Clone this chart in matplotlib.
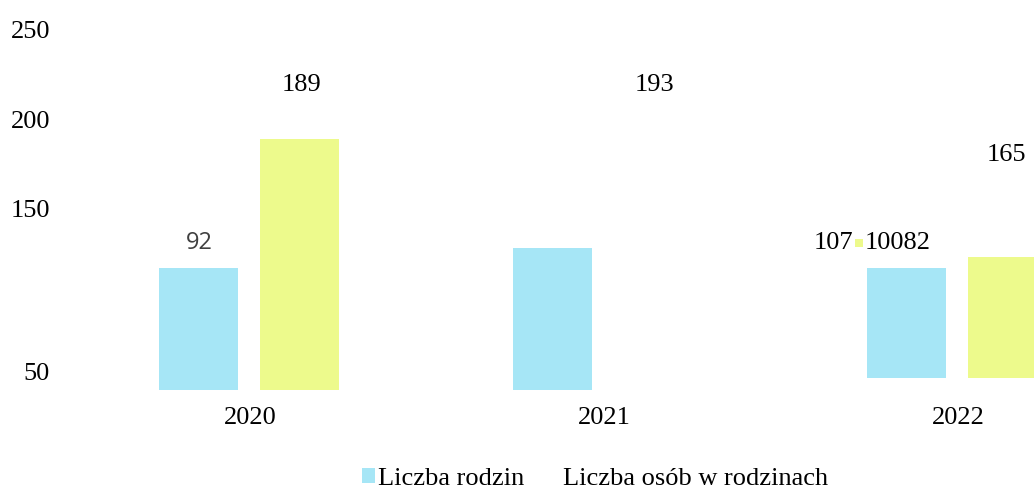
import matplotlib
matplotlib.use("Agg")
import matplotlib.pyplot as plt
import matplotlib.transforms as mtransforms
from matplotlib.patches import Patch
import numpy as np

# ---------------- data ----------------
years = ["2020", "2021", "2022"]
series_names = ["Liczba rodzin", "Liczba osób w rodzinach"]
rodziny_top = [117, 128, 117]
rodziny_bottom = [49, 49, 56]
osoby_top = [189, np.nan, 123]
osoby_bottom = [49, np.nan, 56]
ytick_values = [250, 200, 150, 50]
ytick_labels = ["250", "200", "150", "50"]

# data labels as they appear in the picture
label_texts = ["92", "189", "193", "165", "107", "10082"]
label_cat = [0, 0, 1, 2, 2, 2]
label_dx = [-0.142, 0.147, 0.144, 0.136, -0.353, -0.17]
label_y = [131, 219, 219, 180, 131, 131]
label_sans = [True, False, False, False, False, False]

# ---------------- style ----------------
cyan = "#a6e6f6"
yellow = "#edfa8c"
serif = ["Liberation Serif", "DejaVu Serif"]
fs = 19

fig = plt.figure(figsize=(10.34, 4.88), dpi=100)
ax = fig.add_axes([0, 0, 1, 1])
ax.set_xlim(-0.7062, 2.2147)
ax.set_ylim(-5.43, 266.43)
for s in ax.spines.values():
    s.set_visible(False)

x = np.arange(len(years))
w = 0.223
rt = np.array(rodziny_top, float); rb = np.array(rodziny_bottom, float)
ot = np.array(osoby_top, float); ob = np.array(osoby_bottom, float)
ax.bar(x - 0.145, rt - rb, bottom=rb, width=w, color=cyan, linewidth=0)
ax.bar(x + 0.14, ot - ob, bottom=ob, width=w, color=yellow, linewidth=0)

# y ticks (drawn inside the figure)
ax.set_yticks(ytick_values)
ax.set_yticklabels(ytick_labels, fontfamily=serif, fontsize=fs)
ax.tick_params(axis="y", length=0, pad=-36)
for lab in ax.get_yticklabels():
    if lab.get_text() == "50":
        lab.set_transform(lab.get_transform() +
                          mtransforms.ScaledTranslation(0, 0.175, fig.dpi_scale_trans))

# x ticks
ax.set_xticks(x)
ax.set_xticklabels(years, fontfamily=serif, fontsize=fs)
ax.tick_params(axis="x", length=0, pad=-58.5)

# data labels
for t, c, dx, yy, sans in zip(label_texts, label_cat, label_dx, label_y, label_sans):
    if sans:
        ax.text(c + dx, yy, t, ha="center", va="center", fontsize=17,
                fontfamily=["Open Sans", "DejaVu Sans"], color="#404040")
    else:
        ax.text(c + dx, yy, t, ha="center", va="center", fontsize=fs,
                fontfamily=serif, color="black")

# small yellow marker between 107 and 10082
ax.scatter([2 - 0.28], [131], marker="s", s=28, color=yellow, linewidths=0)

# legend
handles = [Patch(facecolor=cyan, edgecolor="none"),
           Patch(facecolor="none", edgecolor="none")]
leg = ax.legend(handles, series_names, loc="center left",
                bbox_to_anchor=(362 / 1034, 1 - 479 / 488),
                bbox_transform=fig.transFigure, ncol=2, frameon=False,
                prop={"family": serif, "size": fs}, handlelength=0.5,
                handleheight=0.5, handletextpad=0.1, columnspacing=0.89,
                borderpad=0, borderaxespad=0)

fig.savefig("out.png", dpi=100)
